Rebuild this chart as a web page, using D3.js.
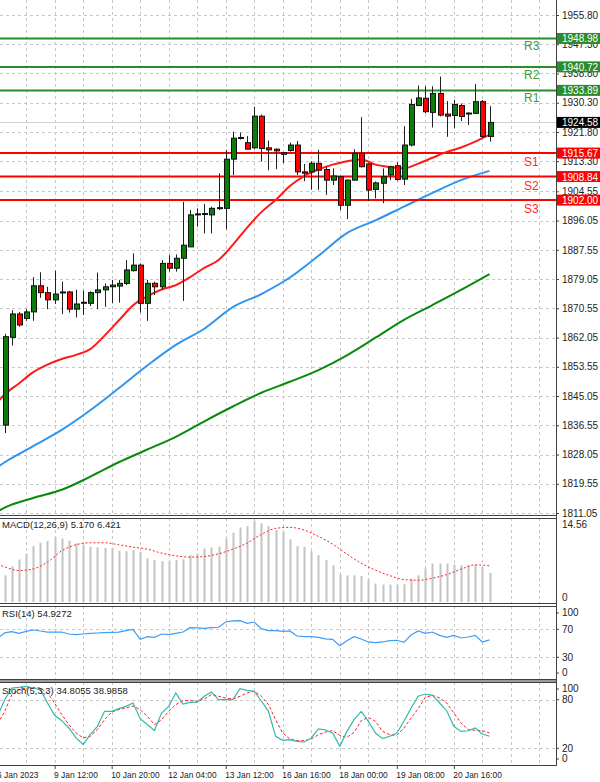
<!DOCTYPE html>
<html><head><meta charset="utf-8">
<script src="https://cdn.jsdelivr.net/npm/d3@7"></script>
<style>body{margin:0;background:#fff}svg{display:block}text{font-family:"Liberation Sans",Arial,sans-serif}</style>
</head><body><svg id="c" width="600" height="782"></svg>
<script>
// ---------- DATA ----------
const opens  = [1836.6,1862.1,1868.9,1867.6,1869.5,1877.1,1875.1,1873.0,1875.0,1875.3,1870.3,1872.1,1872.0,1875.1,1875.9,1876.8,1877.0,1877.8,1881.5,1883.1,1872.0,1877.8,1876.8,1883.6,1882.2,1885.1,1888.4,1897.7,1898.0,1897.7,1899.6,1899.6,1913.9,1920.0,1918.7,1917.2,1926.4,1917.2,1916.8,1915.8,1916.4,1918.0,1910.2,1910.2,1912.7,1910.9,1907.8,1908.8,1900.5,1907.8,1915.6,1912.5,1905.1,1906.9,1909.3,1912.0,1908.1,1918.0,1929.5,1931.6,1927.5,1933.0,1927.0,1926.6,1929.5,1927.2,1927.2,1930.6,1920.5];
const highs  = [1863.1,1870.0,1869.5,1870.3,1879.6,1881.0,1876.8,1881.5,1878.3,1875.6,1875.9,1875.7,1875.5,1880.9,1877.8,1878.8,1878.8,1884.6,1886.5,1883.6,1878.8,1878.3,1884.6,1886.0,1886.2,1901.5,1899.1,1899.6,1900.9,1900.1,1909.8,1916.6,1921.9,1921.6,1920.6,1929.1,1926.9,1919.3,1917.0,1916.0,1918.7,1919.2,1912.5,1913.3,1916.6,1911.7,1911.2,1908.9,1908.0,1916.8,1926.1,1912.7,1907.4,1911.2,1912.0,1913.0,1923.5,1931.4,1935.3,1935.1,1935.1,1937.9,1930.8,1931.1,1930.1,1927.5,1935.7,1931.1,1929.3];
const lows   = [1834.3,1859.7,1865.2,1866.9,1866.9,1873.6,1870.3,1871.8,1868.9,1869.3,1867.9,1868.6,1871.2,1870.3,1871.0,1872.0,1872.2,1877.3,1881.2,1869.3,1866.9,1874.4,1875.9,1881.2,1881.2,1872.7,1888.4,1894.3,1892.3,1892.3,1899.1,1893.5,1909.3,1919.6,1916.8,1916.8,1913.2,1910.7,1911.0,1912.7,1916.1,1909.3,1907.5,1905.0,1904.9,1903.5,1906.4,1899.1,1896.5,1907.6,1911.5,1901.7,1902.5,1901.1,1907.8,1907.6,1906.4,1917.6,1929.3,1927.2,1923.1,1926.3,1920.4,1922.9,1925.0,1923.8,1927.0,1920.0,1919.0];
const closes = [1862.3,1868.9,1865.7,1869.5,1877.1,1875.1,1873.0,1874.7,1875.3,1870.3,1871.8,1872.3,1875.1,1875.9,1876.8,1877.3,1877.8,1881.7,1883.1,1872.0,1877.8,1876.8,1883.6,1882.2,1885.1,1888.9,1897.7,1898.0,1898.1,1899.6,1899.8,1913.9,1920.0,1920.2,1916.8,1926.4,1917.0,1916.6,1916.3,1915.3,1918.0,1910.2,1909.8,1912.7,1910.7,1907.8,1909.0,1900.5,1907.8,1915.6,1911.7,1904.9,1907.0,1908.8,1911.7,1908.0,1918.0,1929.8,1931.7,1927.7,1933.0,1926.7,1926.4,1929.8,1926.3,1927.3,1930.6,1920.5,1924.58];

const maFastIdx = [-1,0,2,4,6,8,10,12,14,16,18,20,22,24,26,28,30,32,34,36,38,40,42,44,46,48,50,52,54,56,58,60,62,64,66,68];
const maFast    = [1843.3,1845.5,1848.7,1852.0,1854.2,1855.8,1857.0,1858.7,1862.6,1867.0,1871.4,1874.0,1876.0,1877.3,1879.6,1882.3,1884.6,1889.0,1894.0,1898.5,1902.0,1906.1,1909.0,1910.9,1912.3,1913.3,1913.8,1912.3,1911.6,1911.2,1912.6,1914.3,1916.0,1917.3,1919.0,1921.0];
const maSlowIdx = [-1,0,4,8,12,16,20,24,28,32,36,40,44,48,52,56,60,64,68];
const maMid     = [1824.4,1825.8,1830.5,1835.2,1840.9,1847.3,1853.9,1859.9,1864.6,1870.9,1874.7,1879.5,1885.8,1892.4,1896.1,1900.1,1904.1,1907.8,1910.5];
const maLong    = [1811.5,1812.6,1815.4,1817.8,1821.6,1825.8,1829.5,1833.2,1837.7,1842.0,1846.0,1849.2,1852.6,1856.9,1862.0,1867.2,1871.5,1875.9,1880.5];

const levelNames  = ["R3","R2","R1","S1","S2","S3"];
const levelValues = [1948.98,1940.72,1933.89,1915.67,1908.84,1902.00];
const lastPrice = 1924.58;

const priceTicks = [1955.80,1947.30,1938.80,1930.30,1921.80,1913.30,1904.55,1896.05,1887.55,1879.05,1870.55,1862.05,1853.55,1845.05,1836.55,1828.05,1819.55,1811.05];

const macdHist = [4.75,6.36,7.55,8.62,9.92,10.52,10.82,11.47,11.29,10.88,10.40,10.10,9.81,9.69,9.63,9.63,9.09,9.03,9.21,8.91,7.73,7.43,7.25,7.25,7.43,7.61,8.32,8.62,9.51,9.69,9.81,11.29,12.30,13.25,13.49,14.44,13.97,13.49,12.78,12.48,11.11,9.92,9.81,9.03,8.32,7.43,6.54,4.87,4.75,4.75,4.64,3.98,3.27,3.09,3.09,2.97,3.15,4.16,4.75,5.94,6.83,6.83,6.83,6.66,6.54,6.54,6.54,6.24,5.17];
const macdSigIdx = [-1,0,2,4,6,8,10,12,14,16,18,20,22,24,26,28,30,32,34,36,38,40,42,44,46,48,50,52,54,56,58,60,62,64,66,68];
const macdSignal = [6.7,6.24,5.59,5.88,7.07,9.09,10.16,10.52,10.52,10.16,9.75,9.39,8.68,8.20,7.96,8.08,8.56,9.39,10.46,12.00,13.07,13.25,12.78,11.65,10.28,8.50,6.89,5.65,4.69,3.98,3.86,4.22,4.87,5.82,6.60,6.42];

const rsi = [65.0,66.6,64.3,67.1,69.0,67.6,66.1,66.1,66.1,63.3,62.4,63.3,64.3,64.7,65.2,65.7,66.1,68.1,69.9,55.7,59.5,58.5,63.3,62.4,64.3,66.1,72.4,71.9,71.4,72.4,72.9,80.4,81.9,82.4,78.5,80.4,71.0,68.1,68.1,67.1,67.6,60.4,59.5,59.5,58.5,56.2,55.7,46.6,53.8,59.5,56.2,51.9,50.9,51.9,53.8,54.3,51.4,61.9,67.6,64.3,66.1,61.4,58.5,61.4,57.6,59.0,61.4,51.9,54.93];
const rsiFirst = 57.0;

const stochK = [80.0,94.4,95.3,96.5,94.4,92.4,75.9,60.7,54.1,45.1,32.8,24.7,36.9,47.1,65.6,65.6,68.9,71.8,75.9,56.6,49.4,41.9,63.6,71.8,88.3,74.7,76.7,77.1,84.2,89.5,80.0,80.0,80.0,93.6,91.6,90.3,78.4,65.6,34.8,29.9,30.7,28.6,27.8,32.8,43.9,42.6,38.9,22.4,40.9,55.3,65.6,53.3,38.9,31.9,34.8,38.9,53.3,69.8,84.2,87.0,85.4,75.9,66.4,47.1,40.9,41.7,45.1,37.7,34.81];
const stochD = [65.6,86.2,92.4,94.4,95.3,94.4,88.3,75.9,61.5,49.2,39.0,32.8,34.8,43.1,55.3,64.8,67.7,69.8,72.2,67.7,59.5,49.2,55.3,65.6,73.9,78.8,78.8,78.0,80.8,86.2,84.2,82.1,80.8,84.2,88.3,90.3,84.2,73.9,55.3,38.9,31.5,29.4,29.4,31.5,36.8,40.1,41.8,36.0,33.5,39.7,54.1,58.2,53.3,40.9,36.8,36.0,45.1,57.4,68.9,82.9,85.4,82.1,75.9,63.6,51.2,43.1,42.2,41.8,38.99];
const stochKFirst = 60.0, stochDFirst = 50.0;

const dateIdx    = [-1,7,15,23,31,39,47,55,63];
const dateLabels = ["6 Jan 2023","9 Jan 12:00","10 Jan 20:00","12 Jan 04:00","13 Jan 12:00","16 Jan 16:00","18 Jan 00:00","19 Jan 08:00","20 Jan 16:00"];

const macdTicks = [14.56, 0];
const rsiTicks = [100,70,30,0];
const rsiGrid = [70,30];
const stochTicks = [100,80,20,0];
const stochGrid = [80,20];

// ---------- LAYOUT ----------
const W = 600, XR = 556;
const P = {main:[0,515], macd:[518,603], rsi:[606,679], stoch:[682,765]};
const svg = d3.select('#c');
svg.append('rect').attr('width',W).attr('height',782).attr('fill','#fff');

const x = d3.scaleLinear().domain([0,68]).range([4.7,489.5]);
const yP = d3.scaleLinear().domain([1811.05,1955.80]).range([513,15]);
const yM = d3.scaleLinear().domain([0,14.56]).range([602,520]);
const yR = d3.scaleLinear().domain([0,100]).range([678.3,608.3]);
const yS = d3.scaleLinear().domain([0,100]).range([764.5,683.5]);

const defs = svg.append('defs');
Object.entries(P).forEach(([k,[t,b]])=>{
  defs.append('clipPath').attr('id','clip-'+k).append('rect').attr('x',0).attr('y',t).attr('width',XR).attr('height',b-t);
});
const layer = k => svg.append('g').attr('clip-path','url(#clip-'+k+')');

const gridCol = '#c8c8c8';
const gridIdx = d3.range(-1, 80, 4);
Object.entries(P).forEach(([k,[t,b]])=>{
  layer(k).selectAll('line').data(gridIdx).join('line')
    .attr('x1',d=>Math.round(x(d))+0.5).attr('x2',d=>Math.round(x(d))+0.5)
    .attr('y1',t).attr('y2',b).attr('stroke',gridCol).attr('stroke-dasharray','3,3');
});

// ---------- MAIN ----------
const gm = layer('main');
gm.selectAll('line.hg').data(priceTicks).join('line').attr('class','hg')
  .attr('x1',0).attr('x2',XR).attr('y1',d=>Math.round(yP(d))+0.5).attr('y2',d=>Math.round(yP(d))+0.5)
  .attr('stroke',gridCol).attr('stroke-dasharray','3,3');
gm.append('line').attr('x1',0).attr('x2',XR).attr('y1',Math.round(yP(lastPrice))+0.5).attr('y2',Math.round(yP(lastPrice))+0.5)
  .attr('stroke','#d0d0d0').attr('stroke-width',1);

const lineFn = (ys) => d3.line().x(d=>x(d[0])).y(d=>ys(d[1])).curve(d3.curveMonotoneX);
const drawLine = (g, idx, vals, ys, color, w, dash) => {
  const p = g.append('path').datum(idx.map((d,i)=>[d,vals[i]])).attr('d',lineFn(ys)).attr('fill','none')
    .attr('stroke',color).attr('stroke-width',w);
  if (dash) p.attr('stroke-dasharray',dash);
};
drawLine(gm, maSlowIdx, maLong, yP, '#0a8a0a', 2);
drawLine(gm, maSlowIdx, maMid, yP, '#2f95f0', 2);

const lvlColor = (n)=> n[0]==='R' ? '#2a8c2a' : '#ff0000';
gm.selectAll('line.lvl').data(levelValues).join('line').attr('class','lvl')
  .attr('x1',0).attr('x2',XR).attr('y1',d=>yP(d)).attr('y2',d=>yP(d))
  .attr('stroke',(d,i)=>lvlColor(levelNames[i])).attr('stroke-width',2);

drawLine(gm, maFastIdx, maFast, yP, '#ff1a1a', 2);

const cg = gm.append('g');
const idxs = d3.range(opens.length);
cg.selectAll('line.w').data(idxs).join('line').attr('class','w')
  .attr('x1',i=>Math.round(x(i))+0.5).attr('x2',i=>Math.round(x(i))+0.5)
  .attr('y1',i=>yP(highs[i])).attr('y2',i=>yP(lows[i])).attr('stroke','#202020').attr('stroke-width',1);
cg.selectAll('rect.b').data(idxs).join('rect').attr('class','b')
  .attr('x',i=>Math.round(x(i))-2+0.5).attr('width',5)
  .attr('y',i=>yP(Math.max(opens[i],closes[i])))
  .attr('height',i=>Math.max(1,Math.abs(yP(opens[i])-yP(closes[i]))))
  .attr('fill',i=>closes[i]>=opens[i]?'#0a7d0a':'#ff0000')
  .attr('stroke','#111').attr('stroke-width',1);

gm.selectAll('text.lvl').data(levelNames).join('text').attr('class','lvl')
  .attr('x',524).attr('y',(d,i)=> yP(levelValues[i]) + (d[0]==='R'?12:13))
  .attr('fill',(d)=>d[0]==='R'?'#3a9a3a':'#ff2a2a').attr('font-size',12).text(d=>d);

// ---------- MACD ----------
const gmacd = layer('macd');
gmacd.selectAll('rect').data(macdHist).join('rect')
  .attr('x',(d,i)=>Math.round(x(i))-0.5).attr('width',2)
  .attr('y',d=>yM(d)).attr('height',d=>yM(0)-yM(d)).attr('fill','#c4c4c4');
drawLine(gmacd, macdSigIdx, macdSignal, yM, '#ff2020', 1, '2,2');

// ---------- RSI ----------
const grsi = layer('rsi');
grsi.selectAll('line.hg').data(rsiGrid).join('line').attr('class','hg')
  .attr('x1',0).attr('x2',XR).attr('y1',d=>Math.round(yR(d))+0.5).attr('y2',d=>Math.round(yR(d))+0.5)
  .attr('stroke',gridCol).attr('stroke-dasharray','3,3');
grsi.append('path').datum([[-1,rsiFirst]].concat(rsi.map((v,i)=>[i,v])))
  .attr('d',d3.line().x(d=>x(d[0])).y(d=>yR(d[1]))).attr('fill','none').attr('stroke','#3d9cf5').attr('stroke-width',1.2);

// ---------- STOCH ----------
const gst = layer('stoch');
gst.selectAll('line.hg').data(stochGrid).join('line').attr('class','hg')
  .attr('x1',0).attr('x2',XR).attr('y1',d=>Math.round(yS(d))+0.5).attr('y2',d=>Math.round(yS(d))+0.5)
  .attr('stroke',gridCol).attr('stroke-dasharray','3,3');
gst.append('path').datum([[-1,stochDFirst]].concat(stochD.map((v,i)=>[i,v])))
  .attr('d',d3.line().x(d=>x(d[0])).y(d=>yS(d[1]))).attr('fill','none').attr('stroke','#ff2020').attr('stroke-width',1).attr('stroke-dasharray','3,2');
gst.append('path').datum([[-1,stochKFirst]].concat(stochK.map((v,i)=>[i,v])))
  .attr('d',d3.line().x(d=>x(d[0])).y(d=>yS(d[1]))).attr('fill','none').attr('stroke','#35b8ad').attr('stroke-width',1.2);

// ---------- FRAMES ----------
const frame = svg.append('g');
Object.entries(P).forEach(([k,[t,b]])=>{
  if (k!=='main') frame.append('line').attr('x1',0).attr('x2',XR).attr('y1',t+0.5).attr('y2',t+0.5).attr('stroke','#404040');
  frame.append('line').attr('x1',0).attr('x2',XR).attr('y1',b+0.5).attr('y2',b+0.5).attr('stroke','#404040');
});
frame.append('rect').attr('x',0).attr('y',P.rsi[1]+1).attr('width',XR).attr('height',2).attr('fill','#9a9a9a');
frame.append('line').attr('x1',XR+0.5).attr('x2',XR+0.5).attr('y1',0).attr('y2',P.stoch[1]+1).attr('stroke','#404040');

// ---------- AXES ----------
const styleAxis = (fs) => g => { g.select('.domain').remove(); g.selectAll('line').attr('stroke','#404040'); g.selectAll('text').attr('fill','#222').attr('font-size',fs).attr('font-family','"Liberation Sans",Arial,sans-serif'); };
svg.append('g').attr('transform',`translate(${XR},0)`)
  .call(d3.axisRight(yP).tickValues(priceTicks).tickSize(3).tickPadding(3).tickFormat(d3.format('.2f'))).call(styleAxis(10));
svg.append('g').attr('transform',`translate(${XR},0)`)
  .call(d3.axisRight(yM).tickValues(macdTicks).tickSize(0).tickPadding(6).tickFormat(d=>d===0?'0':d3.format('.2f')(d))).call(styleAxis(10))
  .selectAll('.tick').attr('transform',d=>`translate(0,${d===0?598:525})`);
svg.append('g').attr('transform',`translate(${XR},0)`)
  .call(d3.axisRight(yR).tickValues(rsiTicks).tickSize(3).tickPadding(3)).call(styleAxis(10))
  .selectAll('.tick').attr('transform',d=>`translate(0,${d===100?613:d===0?673:yR(d)})`);
svg.append('g').attr('transform',`translate(${XR},0)`)
  .call(d3.axisRight(yS).tickValues(stochTicks).tickSize(3).tickPadding(3)).call(styleAxis(10))
  .selectAll('.tick').attr('transform',d=>`translate(0,${d===100?689:d===0?759:yS(d)})`);

const xa = svg.append('g').attr('transform',`translate(0,${P.stoch[1]+1})`)
  .call(d3.axisBottom(x).tickValues(dateIdx).tickSize(3).tickPadding(3).tickFormat((d,i)=>dateLabels[i])).call(styleAxis(8.4));
xa.selectAll('text').attr('text-anchor','start').attr('dx',-1);

// price boxes
const boxes = levelValues.map((v,i)=>({v, c: levelNames[i][0]==='R' ? '#2a8c2a' : '#ff0000'})).concat([{v:lastPrice,c:'#000'}]);
const bg = svg.append('g');
bg.selectAll('rect').data(boxes).join('rect').attr('x',XR+1).attr('width',W-XR-1).attr('y',d=>yP(d.v)-5.5).attr('height',11).attr('fill',d=>d.c);
bg.selectAll('text').data(boxes).join('text').attr('x',XR+6).attr('y',d=>yP(d.v)+4).attr('fill','#fff').attr('font-size',10).text(d=>d3.format('.2f')(d.v));

// titles
svg.append('text').attr('x',2).attr('y',P.macd[0]+10).attr('font-size',9.5).attr('fill','#222').text('MACD(12,26,9) 5.170 6.421');
svg.append('text').attr('x',2).attr('y',P.rsi[0]+11).attr('font-size',9.5).attr('fill','#222').text('RSI(14) 54.9272');
svg.append('text').attr('x',2).attr('y',P.stoch[0]+12).attr('font-size',9.5).attr('fill','#222').text('Stoch(5,3,3) 34.8055 38.9858');
</script></body></html>
